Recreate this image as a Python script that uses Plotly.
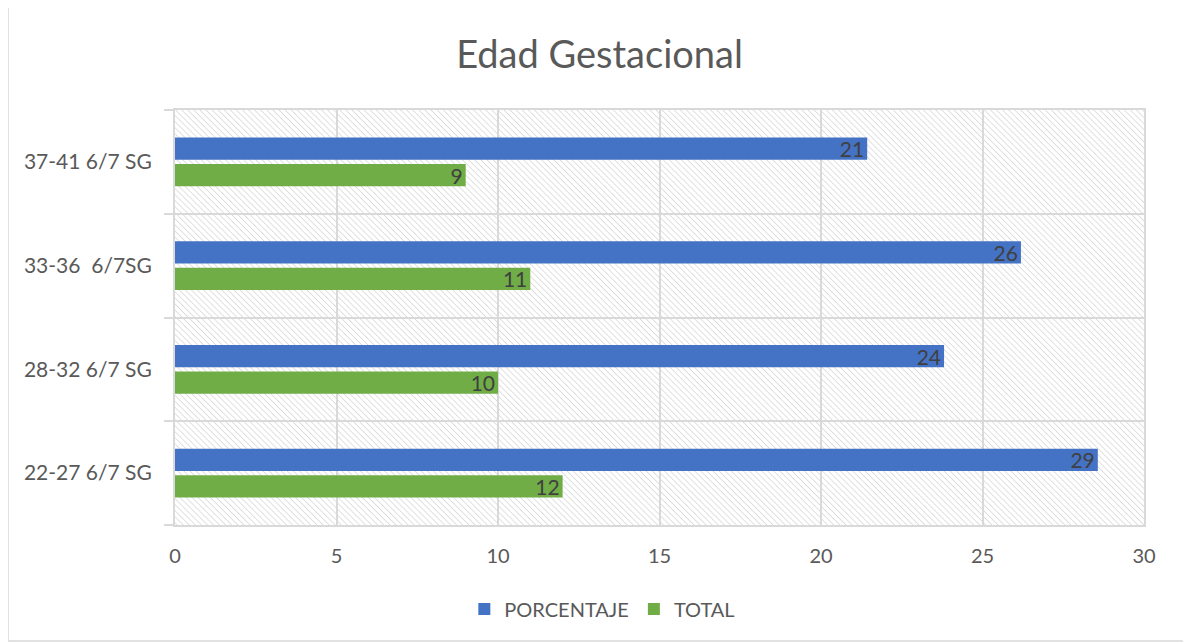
import urllib.parse
import plotly.graph_objects as go

# datos del grafico (de abajo hacia arriba)
categorias = ["22-27 6/7 SG", "28-32 6/7 SG", "33-36  6/7SG", "37-41 6/7 SG"]
total = [12, 10, 11, 9]
porcentaje = [28.57, 23.81, 26.19, 21.43]
ticks_x = [0, 5, 10, 15, 20, 25, 30]

AZUL = "#4472C4"
VERDE = "#70AD47"
GRIS_TEXTO = "#595959"
GRIS_LINEA = "#d9d9d9"
FUENTE = "Lato, Open Sans, sans-serif"

# fondo rayado del area de trazado (patron svg)
svg = (
    "<svg xmlns='http://www.w3.org/2000/svg' width='969' height='415'>"
    "<defs><pattern id='p' width='4.3' height='4.3' patternUnits='userSpaceOnUse' "
    "patternTransform='rotate(-45)'>"
    "<line x1='0' y1='0' x2='0' y2='4.3' stroke='#cdcdcd' stroke-width='1.2'/>"
    "</pattern></defs><rect width='100%' height='100%' fill='url(#p)'/></svg>"
)
fondo = "data:image/svg+xml;charset=utf-8," + urllib.parse.quote(svg)

fig = go.Figure()

fig.add_trace(go.Bar(
    y=categorias, x=total, name="TOTAL", orientation="h",
    marker=dict(color=VERDE, line_width=0),
    texttemplate="%{x:.0f}", textposition="inside", insidetextanchor="end",
    insidetextfont=dict(color="#404040", size=21, family=FUENTE),
    textangle=0, constraintext="none",
))
fig.add_trace(go.Bar(
    y=categorias, x=porcentaje, name="PORCENTAJE", orientation="h",
    marker=dict(color=AZUL, line_width=0),
    texttemplate="%{x:.0f}", textposition="inside", insidetextanchor="end",
    insidetextfont=dict(color="#404040", size=21, family=FUENTE),
    textangle=0, constraintext="none",
))

# la pagina deja 8px de margen en el body
fig.update_layout(
    width=1183, height=635,
    margin=dict(l=167, r=47, t=102, b=118),
    paper_bgcolor="white",
    plot_bgcolor="rgba(0,0,0,0)",
    font=dict(family=FUENTE, color=GRIS_TEXTO, size=20),
    title=dict(text="Edad Gestacional", x=0.5, xanchor="center",
               y=1 - 47 / 635, yanchor="middle",
               font=dict(size=38, color=GRIS_TEXTO, family=FUENTE)),
    barmode="group", bargap=0.49, bargroupgap=0.165,
    legend=dict(orientation="h", x=0.441, xanchor="center", y=-0.2024,
                yanchor="middle", traceorder="reversed",
                font=dict(size=20, color=GRIS_TEXTO)),
    images=[dict(source=fondo, xref="paper", yref="paper", x=0, y=1,
                 sizex=1, sizey=1, sizing="stretch", layer="below")],
    shapes=[dict(type="rect", xref="paper", yref="paper",
                 x0=-0.1723, x1=1.0444, y0=-0.2795, y1=1.2506,
                 line=dict(color=GRIS_LINEA, width=1.5))],
)

fig.update_xaxes(
    range=[0, 30], tickvals=ticks_x, showgrid=True, gridcolor=GRIS_LINEA,
    gridwidth=2, zeroline=False, showline=True, linecolor=GRIS_LINEA,
    linewidth=2, mirror=True, ticks="", ticklabelstandoff=12,
    tickfont=dict(size=20, color=GRIS_TEXTO),
)
fig.update_yaxes(
    type="category", categoryorder="array", categoryarray=categorias,
    range=[-0.5, 3.5], tickson="boundaries", ticks="outside", ticklen=9,
    tickcolor=GRIS_LINEA, tickwidth=2, showgrid=True, gridcolor=GRIS_LINEA,
    gridwidth=2, showline=True, linecolor=GRIS_LINEA, linewidth=2, mirror=True,
    ticklabelstandoff=17, tickfont=dict(size=21, color=GRIS_TEXTO),
)

fig.write_html("out.html")
